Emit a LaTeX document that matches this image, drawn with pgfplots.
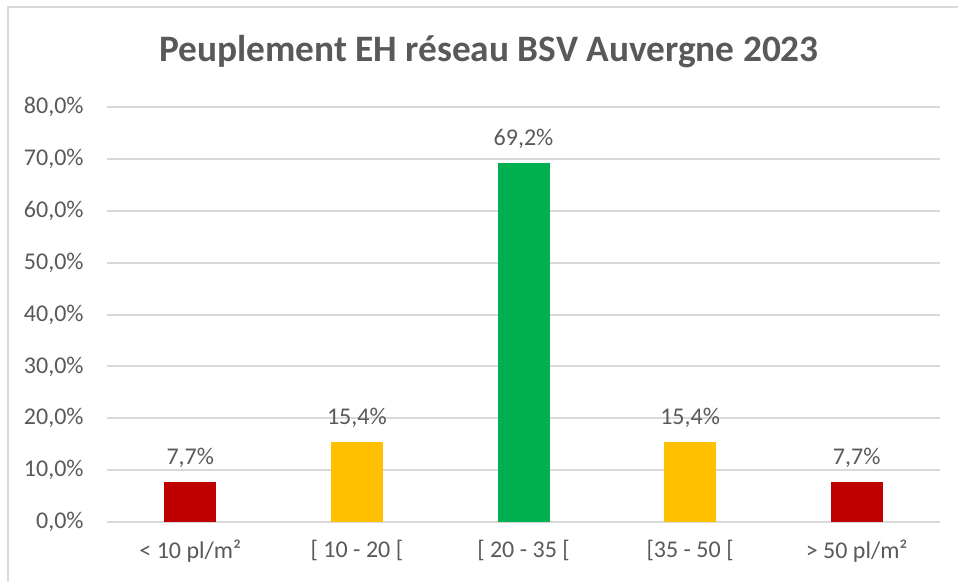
\documentclass[border=0pt]{standalone}
\usepackage{fontspec}
\setmainfont{Carlito}
\usepackage{pgfplots}
\pgfplotsset{compat=1.18}
\definecolor{txtgray}{HTML}{595959}
\definecolor{gridgray}{HTML}{D9D9D9}
\definecolor{barred}{HTML}{C00000}
\definecolor{baryel}{HTML}{FFC000}
\definecolor{bargrn}{HTML}{00B050}
% 1 px of the reference = 0.75pt
\begin{document}
\begin{tikzpicture}[x=0.75pt,y=0.75pt]
  \useasboundingbox (0,0) rectangle (958,582);
  % frame of the chart area (top and left edges visible)
  \draw[gridgray, line width=1.5pt] (8,0) -- (8,575) -- (958,575);
  % title
  \node[font=\fontsize{28}{32}\selectfont\bfseries, text=txtgray] at (489,530)
    {Peuplement EH réseau BSV Auvergne 2023};
  \begin{axis}[
    at={(80.25pt,45pt)}, anchor=south west,
    scale only axis,
    width=624.75pt, height=311.25pt,
    xmin=-0.5, xmax=4.5,
    ymin=0, ymax=80,
    ytick={0,10,...,80},
    yticklabels={{0,0\%},{10,0\%},{20,0\%},{30,0\%},{40,0\%},{50,0\%},{60,0\%},{70,0\%},{80,0\%}},
    xtick={0,1,2,3,4},
    xticklabels={{< 10 pl/m²},{[ 10 - 20 [},{[ 20 - 35 [},{[35 - 50 [},{> 50 pl/m²}},
    ymajorgrids,
    grid style={gridgray, line width=1.5pt},
    axis x line*=bottom,
    axis y line*=left,
    y axis line style={draw=none},
    x axis line style={gridgray, line width=1.5pt, -},
    major tick length=0pt,
    tick label style={font=\fontsize{18}{21}\selectfont, text=txtgray},
    yticklabel style={xshift=-14pt},
    xticklabel style={yshift=-10pt},
    ybar, bar width=39pt, bar shift=0pt,
    nodes near coords,
    point meta=explicit symbolic,
    every node near coord/.append style={font=\fontsize{18}{21}\selectfont, text=txtgray, yshift=7pt},
    clip=false,
  ]
    \addplot[fill=barred, draw=none] coordinates {(0,7.7) [7,7\%]};
    \addplot[fill=baryel, draw=none] coordinates {(1,15.4) [15,4\%]};
    \addplot[fill=bargrn, draw=none] coordinates {(2,69.2) [69,2\%]};
    \addplot[fill=baryel, draw=none] coordinates {(3,15.4) [15,4\%]};
    \addplot[fill=barred, draw=none] coordinates {(4,7.7) [7,7\%]};
  \end{axis}
\end{tikzpicture}
\end{document}
